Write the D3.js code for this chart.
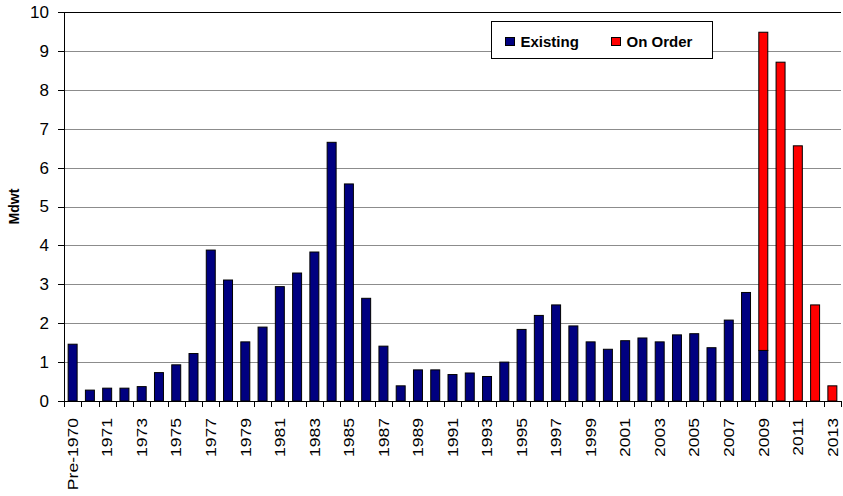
<!DOCTYPE html>
<head>
  <meta charset="utf-8">
  <style>
    body {margin: 0; background: #fff;}
    svg {font-family: Arial, "Liberation Sans", sans-serif;}
    .grid line {stroke: #8c8c8c; stroke-width: 1; shape-rendering: crispEdges;}
    .axis path, .axis line {stroke: #000; fill: none; shape-rendering: crispEdges;}
    .axis text {fill: #000;}
  </style>
</head>
<body>
  <svg width="843" height="496"></svg>
  <script src="https://cdn.jsdelivr.net/npm/d3@7"></script>
  <script>
    // categories and values (Mdwt)
    var years = ["Pre-1970"];
    for (var yr = 1970; yr <= 2013; yr++) years.push(String(yr));

    var existing = [1.46, 0.28, 0.33, 0.33, 0.37, 0.73, 0.93, 1.22, 3.88, 3.11,
                    1.52, 1.90, 2.94, 3.29, 3.83, 6.65, 5.58, 2.64, 1.41, 0.39,
                    0.80, 0.80, 0.68, 0.72, 0.63, 1.00, 1.84, 2.20, 2.47, 1.93,
                    1.52, 1.33, 1.55, 1.62, 1.52, 1.70, 1.73, 1.37, 2.08, 2.79,
                    1.30, 0, 0, 0, 0];
    var onOrder = [0, 0, 0, 0, 0, 0, 0, 0, 0, 0,
                   0, 0, 0, 0, 0, 0, 0, 0, 0, 0,
                   0, 0, 0, 0, 0, 0, 0, 0, 0, 0,
                   0, 0, 0, 0, 0, 0, 0, 0, 0, 0,
                   8.18, 8.71, 6.56, 2.47, 0.39];
    var yTicks = [0, 1, 2, 3, 4, 5, 6, 7, 8, 9, 10];
    var seriesNames = ["Existing", "On Order"];
    var colors = ["#000080", "#ff0000"];

    var svg = d3.select("svg"),
        margin = {top: 12, bottom: 95, left: 64, right: 2},
        width = +svg.attr("width") - margin.left - margin.right,
        height = +svg.attr("height") - margin.top - margin.bottom;

    var graph = svg.append("g").attr("transform", "translate(" + margin.left + "," + margin.top + ")");

    var x = d3.scaleBand().domain(years).range([0, width]).paddingInner(0.48).paddingOuter(0.24),
        y = d3.scaleLinear().domain([0, 10]).range([height, 0]);

    // gridlines
    graph.append("g")
        .attr("class", "grid")
        .selectAll("line")
        .data(yTicks.slice(1))
        .enter().append("line")
          .attr("x1", 0).attr("x2", width)
          .attr("y1", function(d) { return Math.round(y(d)) + 0.5; })
          .attr("y2", function(d) { return Math.round(y(d)) + 0.5; })
          .style("stroke", function(d) { return d === 10 ? "#000" : null; });

    // stacked bars
    var rows = years.map(function(c, i) { return {cat: c, existing: existing[i], onOrder: onOrder[i]}; });
    var stack = d3.stack().keys(["existing", "onOrder"])(rows);

    graph.selectAll(".series")
        .data(stack)
        .enter().append("g")
          .attr("class", "series")
          .attr("fill", function(d, i) { return colors[i]; })
        .selectAll("rect")
        .data(function(d) { return d.filter(function(p) { return p[1] - p[0] > 0; }); })
        .enter().append("rect")
          .attr("x", function(d) { return x(d.data.cat); })
          .attr("width", x.bandwidth())
          .attr("y", function(d) { return y(d[1]); })
          .attr("height", function(d) { return y(d[0]) - y(d[1]); })
          .attr("stroke", "#000")
          .attr("stroke-width", 1);

    // y axis
    graph.append("g")
        .attr("class", "axis")
        .call(d3.axisLeft(y).tickValues(yTicks).tickSize(6).tickPadding(9).tickSizeOuter(0))
        .selectAll("text")
          .attr("font-size", 17);

    // x axis: ticks at category boundaries
    var xAxis = graph.append("g")
        .attr("class", "axis")
        .attr("transform", "translate(0," + height + ")");
    xAxis.append("line").attr("x1", 0).attr("x2", width).attr("y1", 0.5).attr("y2", 0.5);
    xAxis.selectAll(".tick")
        .data(d3.range(years.length + 1))
        .enter().append("line")
          .attr("x1", function(i) { return Math.round(i * x.step()) + 0.5; })
          .attr("x2", function(i) { return Math.round(i * x.step()) + 0.5; })
          .attr("y1", 0).attr("y2", 6);
    xAxis.selectAll("text")
        .data(years.filter(function(d, i) { return i % 2 === 0; }))
        .enter().append("text")
          .attr("transform", function(d) {
            return "translate(" + (x(d) + x.bandwidth() / 2) + ",17) rotate(-90) scale(1.17,1)";
          })
          .attr("dy", "0.35em")
          .attr("text-anchor", "end")
          .attr("font-size", 15)
          .text(function(d) { return d; });

    // y label
    svg.append("text")
        .attr("transform", "translate(14," + (margin.top + height / 2) + ") rotate(-90)")
        .attr("dy", "0.35em")
        .attr("text-anchor", "middle")
        .attr("font-size", 14)
        .attr("font-weight", "bold")
        .text("Mdwt");

    // legend
    var legend = svg.append("g").attr("transform", "translate(491,21)");
    legend.append("rect")
        .attr("x", 0.5).attr("y", 0.5)
        .attr("width", 221).attr("height", 37)
        .attr("fill", "#fff").attr("stroke", "#000");
    var item = legend.selectAll(".item")
        .data(seriesNames)
        .enter().append("g")
          .attr("transform", function(d, i) { return "translate(" + (14.5 + i * 106) + ",16.5)"; });
    item.append("rect")
        .attr("width", 9).attr("height", 8)
        .attr("fill", function(d, i) { return colors[i]; })
        .attr("stroke", "#000");
    item.append("text")
        .attr("x", 15).attr("y", 4)
        .attr("dy", "0.35em")
        .attr("font-size", 15)
        .attr("font-weight", "bold")
        .text(function(d) { return d; });
  </script>
</body>
